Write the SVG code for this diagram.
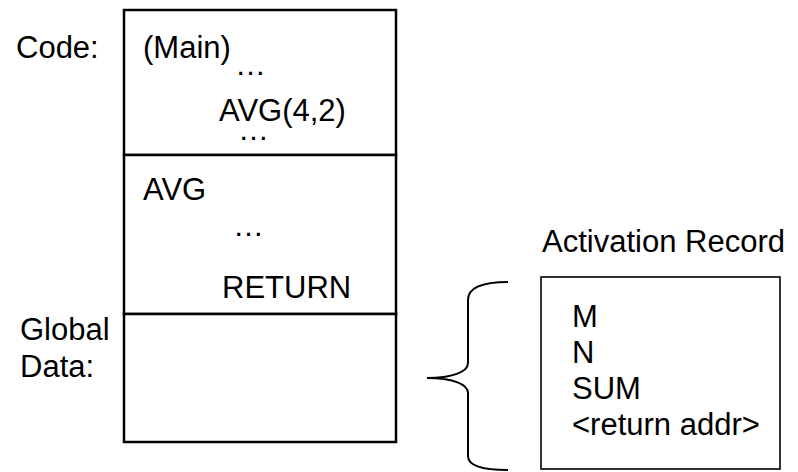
<svg xmlns="http://www.w3.org/2000/svg" width="798" height="472" viewBox="0 0 798 472">
<style>
text{font-family:"Liberation Sans",Arial,sans-serif;font-size:31px;fill:#000}
.box{fill:#fff;stroke:#000;stroke-width:2.5}
.ar{fill:#fff;stroke:#000;stroke-width:1.6}
.brace{fill:none;stroke:#000;stroke-width:2}
</style>
<rect width="798" height="472" fill="#fff"/>
<g id="labels">
<text x="16" y="58">Code:</text>
<text x="20" y="340">Global</text>
<text x="20" y="377">Data:</text>
<text x="542" y="252">Activation Record</text>
</g>
<g id="code-main">
<rect class="box" x="124" y="10" width="272" height="145"/>
<text x="143" y="58">(Main)</text>
<text x="235" y="75">…</text>
<text x="219" y="121">AVG(4,2)</text>
<text x="238" y="140">…</text>
</g>
<g id="code-avg">
<rect class="box" x="124" y="155" width="272" height="159"/>
<text x="143" y="200">AVG</text>
<text x="233" y="236">…</text>
<text x="222" y="298">RETURN</text>
</g>
<g id="global-data">
<rect class="box" x="124" y="314" width="272" height="128"/>
</g>
<g id="activation-record">
<rect class="ar" x="541" y="277" width="239" height="192"/>
<text x="572" y="327">M</text>
<text x="572" y="363">N</text>
<text x="572" y="399">SUM</text>
<text x="572" y="435">&lt;return addr&gt;</text>
</g>
<g id="connectors">
<path class="brace" d="M508,282 C484,282 468,287 468,300 L468,363 C468,372 452,378 427,378 C452,378 468,384 468,393 L468,456 C468,466 484,470 508,470"/>
</g>
</svg>
